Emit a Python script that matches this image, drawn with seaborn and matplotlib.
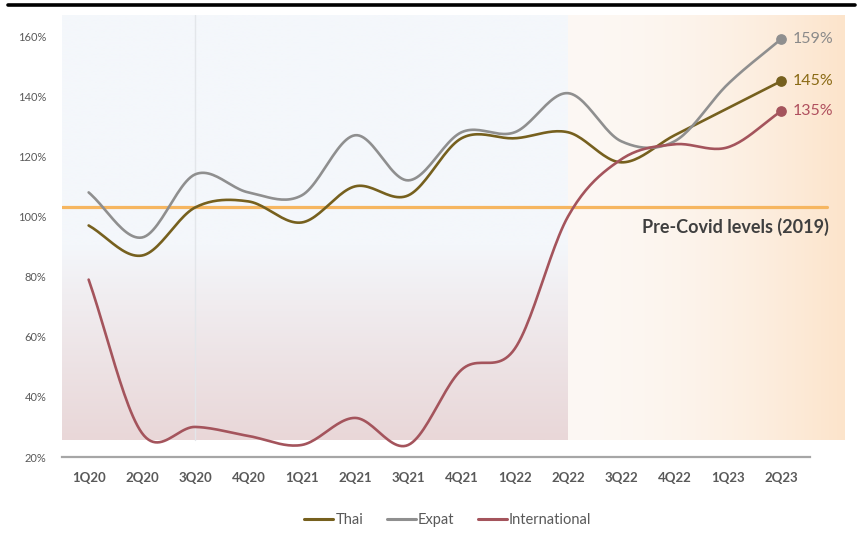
import numpy as np
import pandas as pd
import matplotlib.pyplot as plt
import seaborn as sns
from matplotlib.lines import Line2D
from matplotlib.colors import to_rgb

quarters = ['1Q20', '2Q20', '3Q20', '4Q20', '1Q21', '2Q21', '3Q21', '4Q21',
            '1Q22', '2Q22', '3Q22', '4Q22', '1Q23', '2Q23']
thai = [97, 87, 103, 105, 98, 110, 107, 126, 126, 128, 118, 127, 136, 145]
expat = [108, 93, 114, 108, 107, 127, 112, 128, 128, 141, 125, 125, 144, 159]
international = [79, 28, 30, 27, 24, 33, 24, 49, 56, 100, 119, 124, 123, 135]
pre_covid = 103
y_ticks = [20, 40, 60, 80, 100, 120, 140, 160]

colors = {'Thai': '#76601e', 'Expat': '#8f8f8f', 'International': '#a4545c'}
label_colors = {'Thai': '#8a6a14', 'Expat': '#8a8a8a', 'International': '#b0505e'}
text_grey = '#595959'


def smooth(values, n=24):
    # Catmull-Rom curve through the points (like Excel "smoothed line")
    p = np.asarray(values, float)
    pts = np.concatenate([[2 * p[0] - p[1]], p, [2 * p[-1] - p[-2]]])
    xs, ys = [], []
    t = np.linspace(0, 1, n, endpoint=False)
    for i in range(len(p) - 1):
        p0, p1, p2, p3 = pts[i:i + 4]
        y = 0.5 * (2 * p1 + (-p0 + p2) * t + (2 * p0 - 5 * p1 + 4 * p2 - p3) * t ** 2
                   + (-p0 + 3 * p1 - 3 * p2 + p3) * t ** 3)
        xs.append(i + t)
        ys.append(y)
    xs.append([len(p) - 1])
    ys.append([p[-1]])
    return np.concatenate(xs), np.concatenate(ys)


series = {'Thai': thai, 'Expat': expat, 'International': international}
frames = []
for name, vals in series.items():
    sx, sy = smooth(vals)
    frames.append(pd.DataFrame({'x': sx, 'value': sy, 'series': name}))
df = pd.concat(frames, ignore_index=True)

sns.set_theme(style='white')
plt.rcParams['font.family'] = ['Lato', 'DejaVu Sans']

fig = plt.figure(figsize=(8.61, 5.33), dpi=100)
ax = fig.add_axes([62 / 861, 1 - 457 / 533, (845 - 62) / 861, (457 - 15) / 533])

x_lo, x_split, x_hi = -0.5, 9, 14.2
y_lo, y_bg, y_hi = 20, 25.7, 167

# background panels
blue = np.array(to_rgb('#f4f7fb'))
pink = np.array(to_rgb('#e9d7d8'))
yy = np.linspace(y_bg, y_hi, 300)
w = np.clip((90 - yy) / (90 - y_bg), 0, 1) ** 0.9
left_img = (blue[None, :] * (1 - w[:, None]) + pink[None, :] * w[:, None])[:, None, :]
ax.imshow(left_img, extent=(x_lo, x_split, y_bg, y_hi), origin='lower',
          aspect='auto', zorder=0)

peach_a = np.array(to_rgb('#fdf8f4'))
peach_b = np.array(to_rgb('#fce4cb'))
xx = np.linspace(0, 1, 300) ** 1.8
right_img = (peach_a[None, :] * (1 - xx[:, None]) + peach_b[None, :] * xx[:, None])[None, :, :]
ax.imshow(right_img, extent=(x_split, x_hi, y_bg, y_hi), origin='lower',
          aspect='auto', zorder=0)

ax.plot([2, 2], [y_bg, y_hi], color='#e3e6ea', lw=1, zorder=1)

# pre-covid reference
ax.plot([x_lo, 13.86], [pre_covid, pre_covid], color='#f6b660', lw=2.3, zorder=2)
ax.text(13.9, pre_covid - 6.5, 'Pre-Covid levels (2019)', ha='right', va='center',
        fontsize=13, fontweight='bold', color='#3f3f3f', zorder=5)

sns.lineplot(data=df, x='x', y='value', hue='series', palette=colors,
             estimator=None, sort=False, lw=1.9, legend=False, ax=ax, zorder=3)

for name, vals in series.items():
    ax.scatter([len(vals) - 1], [vals[-1]], s=45, color=colors[name], zorder=4)
    ax.text(len(vals) - 1 + 0.22, vals[-1], f'{vals[-1]}%', va='center',
            fontsize=11.5, color=label_colors[name], zorder=5)

ax.set_xlim(x_lo, x_hi)
ax.set_ylim(y_lo, y_hi)
ax.set_xticks(range(len(quarters)))
ax.set_xticklabels(quarters, fontsize=9.5, fontweight='bold', color=text_grey)
ax.set_yticks(y_ticks)
ax.set_yticklabels([f'{v}%' for v in y_ticks], fontsize=8, color=text_grey)
ax.tick_params(axis='x', length=0, pad=11)
ax.tick_params(axis='y', length=0, pad=11)
ax.set_xlabel('')
ax.set_ylabel('')
for s in ['top', 'right', 'left']:
    ax.spines[s].set_visible(False)
ax.spines['bottom'].set_color('#a6a6a6')
ax.spines['bottom'].set_linewidth(1.6)
ax.spines['bottom'].set_bounds(x_lo, 13.54)

handles = [Line2D([0], [0], color=colors[n], lw=2.2) for n in series]
fig.legend(handles, list(series), loc='center', bbox_to_anchor=(0.52, 0.025),
           ncol=3, frameon=False, fontsize=10.5, handlelength=2.0, handletextpad=0.15,
           columnspacing=1.6, labelcolor=text_grey)

fig.add_artist(Line2D([8 / 861, 855 / 861], [1 - 5 / 533, 1 - 5 / 533],
                      transform=fig.transFigure, color='black', lw=2.6))

fig.savefig('out.png', dpi=100)
